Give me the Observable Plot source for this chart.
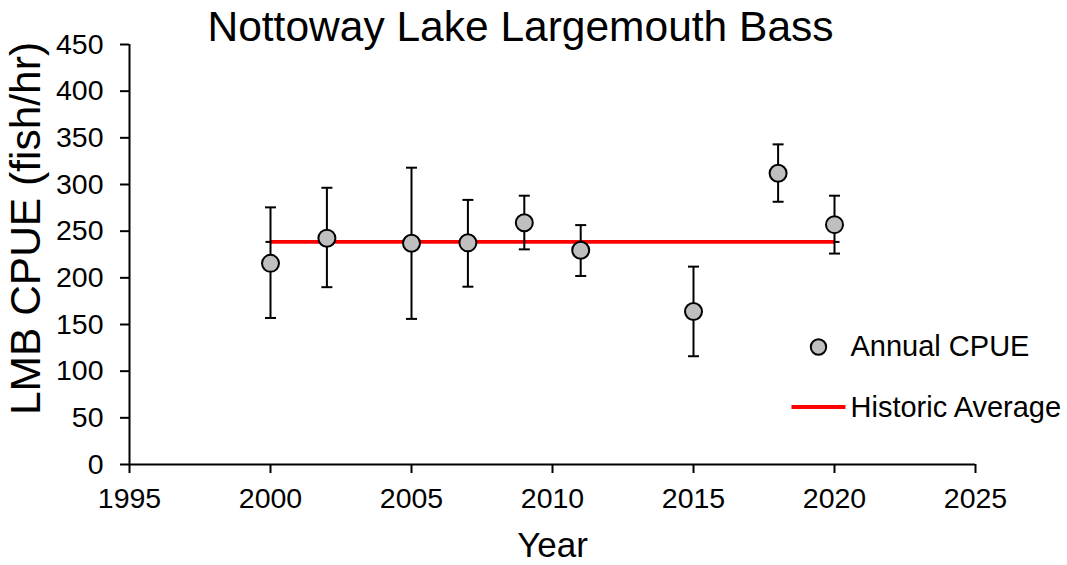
<!DOCTYPE html>
<html>
<head>
<meta charset="utf-8">
<script src="https://cdn.jsdelivr.net/npm/d3@7"></script>
<script src="https://cdn.jsdelivr.net/npm/@observablehq/plot@0.6"></script>
<style>
  html, body { margin: 0; padding: 0; background: #ffffff; }
  #chart { width: 1067px; height: 565px; }
</style>
</head>
<body>
<div id="chart"></div>
<script>
// ---- data ----
const years = [2000, 2002, 2005, 2007, 2009, 2011, 2015, 2018, 2020];
const cpue  = [215.5, 242.5, 237, 237.5, 259, 229.5, 164, 312, 257];
const lower = [157, 190, 156, 190.5, 230.5, 202, 116, 281.5, 226];
const upper = [275.5, 296.5, 318, 283.5, 288, 256.5, 212, 343, 288];
const avgYears  = [2000, 2020];
const avgValues = [238.5, 238.5];
const xTicks = [1995, 2000, 2005, 2010, 2015, 2020, 2025];
const yTicks = [0, 50, 100, 150, 200, 250, 300, 350, 400, 450];
const titleText = "Nottoway Lake Largemouth Bass";
const xLabel = "Year";
const yLabel = "LMB CPUE (fish/hr)";
const legendLabels = ["Annual CPUE", "Historic Average"];

const rows = years.map((y, i) => ({year: y, cpue: cpue[i], lo: lower[i], hi: upper[i]}));
const avgRows = avgYears.map((y, i) => ({year: y, avg: avgValues[i]}));

// horizontal line symbol (for error-bar caps and legend line)
const hline = {
  draw(context, size) {
    const L = Math.sqrt(size / Math.PI);
    context.moveTo(-L, 0);
    context.lineTo(L, 0);
  }
};

const FONT = "Arial, 'Liberation Sans', sans-serif";

const chart = Plot.plot({
  width: 1067,
  height: 565,
  marginLeft: 129,
  marginRight: 92,
  marginTop: 44,
  marginBottom: 101,
  style: {fontFamily: FONT, color: "#000", background: "#fff", overflow: "visible"},
  x: {domain: [1995, 2025], type: "linear"},
  y: {domain: [0, 450]},
  marks: [
    Plot.axisY({ticks: yTicks, tickSize: 9, tickPadding: 17, fontSize: 28.5, strokeWidth: 2,
                tickFormat: d => String(d), label: null}),
    Plot.axisX({ticks: xTicks, tickSize: 9, tickPadding: 14, fontSize: 28.5, strokeWidth: 2,
                tickFormat: d => String(d), label: null}),
    Plot.ruleX([1995], {stroke: "#000", strokeWidth: 2}),
    Plot.ruleY([0], {stroke: "#000", strokeWidth: 2}),
    // zero-length caps on the average series ends
    Plot.dot(avgRows, {x: "year", y: "avg", symbol: hline, r: 5, stroke: "#000", strokeWidth: 2, fill: "none"}),
    // historic average line
    Plot.line(avgRows, {x: "year", y: "avg", stroke: "#ff0000", strokeWidth: 3.7, strokeLinecap: "butt"}),
    // error bars
    Plot.ruleX(rows, {x: "year", y1: "lo", y2: "hi", stroke: "#000", strokeWidth: 2}),
    Plot.dot(rows, {x: "year", y: "hi", symbol: hline, r: 5.5, stroke: "#000", strokeWidth: 2, fill: "none"}),
    Plot.dot(rows, {x: "year", y: "lo", symbol: hline, r: 5.5, stroke: "#000", strokeWidth: 2, fill: "none"}),
    // annual CPUE points
    Plot.dot(rows, {x: "year", y: "cpue", r: 8.5, fill: "#bfbfbf", stroke: "#000", strokeWidth: 2}),
    // title
    Plot.text([titleText], {text: d => d, frameAnchor: "top", textAnchor: "middle", lineAnchor: "middle",
                            dx: -32, dy: -17, fontSize: 42.5, fill: "#000"}),
    // x axis label
    Plot.text([xLabel], {text: d => d, frameAnchor: "bottom", textAnchor: "middle", lineAnchor: "middle",
                         dx: 0, dy: 81, fontSize: 35, fill: "#000"}),
    // y axis label
    Plot.text([yLabel], {text: d => d, frameAnchor: "left", textAnchor: "middle", lineAnchor: "middle",
                         rotate: -90, dx: -103, dy: -26, fontSize: 42.5, fill: "#000"}),
    // legend
    Plot.dot([legendLabels[0]], {frameAnchor: "top-left", dx: 689, dy: 302.5, r: 7.7, fill: "#bfbfbf", stroke: "#000", strokeWidth: 2}),
    Plot.text([legendLabels[0]], {text: d => d, frameAnchor: "top-left", dx: 721, dy: 302.5,
                                  textAnchor: "start", lineAnchor: "middle", fontSize: 29, fill: "#000"}),
    Plot.dot([legendLabels[1]], {frameAnchor: "top-left", dx: 689, dy: 362.5, symbol: hline, r: 27, stroke: "#ff0000", strokeWidth: 4, fill: "none"}),
    Plot.text([legendLabels[1]], {text: d => d, frameAnchor: "top-left", dx: 721, dy: 363,
                                  textAnchor: "start", lineAnchor: "middle", fontSize: 29, fill: "#000"})
  ]
});

document.getElementById("chart").appendChild(chart);
</script>
</body>
</html>
